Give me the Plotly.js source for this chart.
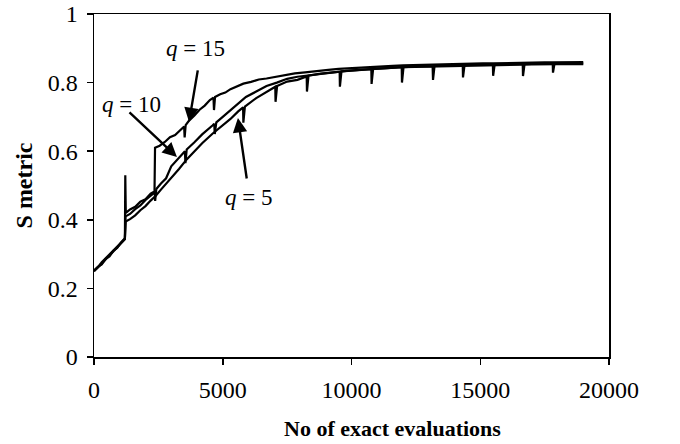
<!DOCTYPE html>
<html>
<head>
<meta charset="utf-8">
<script src="https://cdn.plot.ly/plotly-3.0.1.min.js"></script>
<style>
  html, body { margin: 0; padding: 0; background: #fff; }
  #chart { width: 680px; height: 444px; }
</style>
</head>
<body>
<div id="chart"></div>
<script>
// S metric against the number of exact evaluations, one run per q value.
const q15X = [0, 150, 300, 450, 600, 750, 900, 1050, 1200, 1215, 1235, 1400, 1600, 1800, 2000, 2200, 2350, 2370, 2550, 2750, 2950, 3150, 3350, 3500, 3520, 3560, 3700, 3900, 4100, 4300, 4500, 4640, 4660, 4700, 4900, 5100, 5300, 5500, 5800, 6100, 6400, 6700, 7100, 7400, 7800, 8200, 8700, 9100, 9500, 9900, 10300, 10800, 11200, 11600, 12000, 12400, 12800, 13200, 13600, 14000, 14300, 14700, 15100, 15500, 15900, 16300, 16700, 17100, 17500, 17800, 18300, 18700, 19000];
const q15Y = [0.252, 0.262, 0.276, 0.288, 0.299, 0.309, 0.322, 0.333, 0.345, 0.530, 0.420, 0.430, 0.438, 0.453, 0.460, 0.476, 0.483, 0.610, 0.616, 0.627, 0.641, 0.647, 0.663, 0.672, 0.640, 0.676, 0.690, 0.704, 0.721, 0.733, 0.749, 0.756, 0.720, 0.758, 0.766, 0.771, 0.781, 0.787, 0.797, 0.802, 0.809, 0.812, 0.818, 0.821, 0.827, 0.830, 0.835, 0.837, 0.840, 0.842, 0.844, 0.846, 0.847, 0.849, 0.850, 0.851, 0.852, 0.853, 0.854, 0.854, 0.855, 0.855, 0.856, 0.856, 0.857, 0.857, 0.858, 0.858, 0.859, 0.859, 0.859, 0.860, 0.860];

const q10X = [0, 150, 300, 450, 600, 750, 900, 1050, 1200, 1225, 1400, 1600, 1800, 2000, 2200, 2360, 2375, 2420, 2600, 2800, 3000, 3300, 3530, 3550, 3600, 3900, 4200, 4600, 4670, 4690, 4750, 5000, 5300, 5600, 5900, 6300, 6700, 7100, 7500, 7900, 8300, 8800, 9300, 9800, 10300, 10800, 11500, 12000, 13000, 14000, 15000, 16000, 17000, 18000, 19000];
const q10Y = [0.250, 0.260, 0.272, 0.284, 0.296, 0.308, 0.319, 0.332, 0.343, 0.410, 0.417, 0.431, 0.442, 0.458, 0.469, 0.480, 0.455, 0.490, 0.506, 0.521, 0.556, 0.580, 0.600, 0.565, 0.605, 0.626, 0.649, 0.675, 0.680, 0.650, 0.684, 0.700, 0.719, 0.737, 0.758, 0.774, 0.790, 0.800, 0.811, 0.817, 0.821, 0.826, 0.830, 0.834, 0.837, 0.840, 0.843, 0.845, 0.847, 0.849, 0.851, 0.852, 0.853, 0.854, 0.854];

const q5X = [0, 150, 300, 450, 600, 750, 900, 1050, 1200, 1230, 1400, 1600, 1800, 2000, 2200, 2400, 2600, 2800, 3000, 3300, 3600, 3900, 4200, 4600, 5000, 5300, 5600, 5790, 5800, 5860, 6300, 6700, 7040, 7050, 7110, 7500, 7900, 8260, 8270, 8330, 8800, 9540, 9550, 9610, 10000, 10770, 10780, 10840, 11400, 11950, 11960, 12020, 12600, 13150, 13165, 13225, 13700, 14320, 14330, 14390, 14900, 15490, 15500, 15560, 16100, 16650, 16660, 16720, 17250, 17815, 17825, 17885, 18400, 19000];
const q5Y = [0.251, 0.263, 0.270, 0.286, 0.293, 0.310, 0.318, 0.334, 0.346, 0.395, 0.402, 0.413, 0.428, 0.440, 0.456, 0.470, 0.488, 0.505, 0.521, 0.548, 0.576, 0.600, 0.623, 0.651, 0.676, 0.694, 0.716, 0.728, 0.683, 0.730, 0.755, 0.772, 0.788, 0.744, 0.790, 0.803, 0.808, 0.818, 0.774, 0.820, 0.826, 0.832, 0.788, 0.833, 0.835, 0.839, 0.796, 0.840, 0.842, 0.845, 0.800, 0.845, 0.847, 0.848, 0.808, 0.849, 0.850, 0.851, 0.815, 0.851, 0.852, 0.853, 0.820, 0.853, 0.854, 0.854, 0.819, 0.854, 0.855, 0.856, 0.829, 0.856, 0.856, 0.856];

// Label text, the point each arrow touches, and where its tail starts
const labelText = ['<i>q</i> = 15', '<i>q</i> = 10', '<i>q</i> = 5'];
const labelPos = [[3950, 0.90], [1450, 0.735], [6000, 0.464]];
const arrowTip = [[3690, 0.685], [3220, 0.583], [5590, 0.697]];
const arrowTail = [[4040, 0.84], [1320, 0.717], [5940, 0.516]];

const serif = 'Liberation Serif, Times New Roman, serif';
const lineStyle = { color: '#000', width: 2.2 };

const traces = [
  { x: q15X, y: q15Y, name: 'q = 15' },
  { x: q10X, y: q10Y, name: 'q = 10' },
  { x: q5X, y: q5Y, name: 'q = 5' }
].map(t => Object.assign(t, { type: 'scatter', mode: 'lines', line: lineStyle, hoverinfo: 'skip' }));

const annotations = [];
labelText.forEach((txt, i) => {
  annotations.push({
    x: labelPos[i][0], y: labelPos[i][1], xref: 'x', yref: 'y',
    text: txt, showarrow: false,
    font: { family: serif, size: 23, color: '#000' }
  });
  annotations.push({
    x: arrowTip[i][0], y: arrowTip[i][1], xref: 'x', yref: 'y',
    ax: arrowTail[i][0], ay: arrowTail[i][1], axref: 'x', ayref: 'y',
    text: '', showarrow: true, arrowhead: 2, arrowsize: 1.2, arrowwidth: 2.4,
    arrowcolor: '#000', standoff: 0, startstandoff: 0
  });
});

// x-axis title
annotations.push({
  x: 0.579, y: -0.207, xref: 'paper', yref: 'paper', xanchor: 'center', yanchor: 'middle',
  text: '<b>No of exact evaluations</b>', showarrow: false,
  font: { family: serif, size: 22, color: '#000' }
});

const layout = {
  width: 680, height: 444,
  margin: { l: 94, r: 71, t: 14, b: 87 },
  paper_bgcolor: '#fff', plot_bgcolor: '#fff',
  showlegend: false,
  font: { family: serif, size: 24, color: '#000' },
  xaxis: {
    range: [0, 20000], dtick: 5000, tick0: 0, tickformat: 'd',
    ticks: 'outside', ticklen: 6, tickwidth: 1.5, tickcolor: '#000',
    showline: true, linecolor: '#000', linewidth: 1.5, mirror: true,
    showgrid: false, zeroline: false, ticklabelstandoff: 5
  },
  yaxis: {
    range: [0, 1], dtick: 0.2, tick0: 0,
    ticks: 'outside', ticklen: 6, tickwidth: 1.5, tickcolor: '#000',
    showline: true, linecolor: '#000', linewidth: 1.5, mirror: true,
    showgrid: false, zeroline: false, ticklabelstandoff: 4,
    title: { text: '<b>S metric</b>', font: { family: serif, size: 24 }, standoff: 8 }
  },
  annotations: annotations
};

Plotly.newPlot('chart', traces, layout, { displayModeBar: false, staticPlot: true });
</script>
</body>
</html>
